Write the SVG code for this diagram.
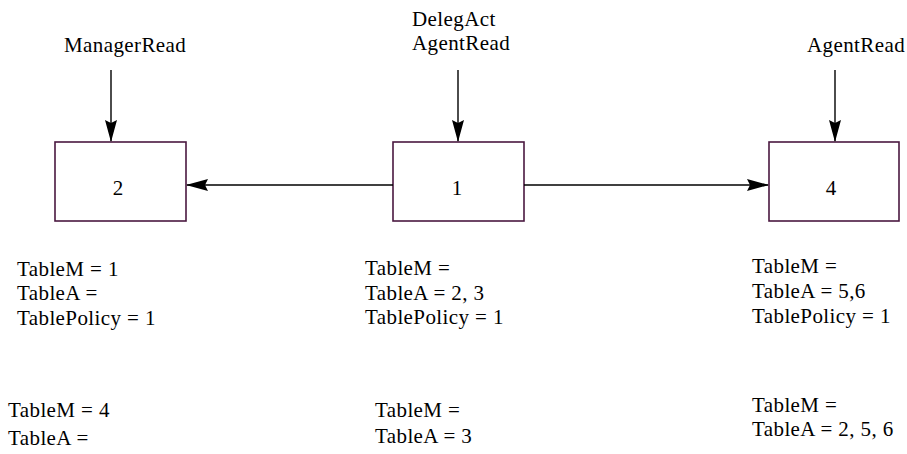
<svg xmlns="http://www.w3.org/2000/svg" width="907" height="454" viewBox="0 0 907 454">
  <style>
    .box { fill: #ffffff; stroke: #4a1840; stroke-width: 1.6; }
    .wire { stroke: #000000; stroke-width: 1.4; fill: none; }
    text { font-family: "Liberation Serif", "Times New Roman", serif; font-size: 21px; fill: #000000; letter-spacing: 0.4px; }
    .num { text-anchor: middle; letter-spacing: 0; }
  </style>
  <defs>
    <marker id="head" viewBox="0 0 22 12" refX="21" refY="6" markerWidth="22" markerHeight="12" markerUnits="userSpaceOnUse" orient="auto">
      <path d="M0,0 L22,6 L0,12 L3,6 Z" fill="#000000"/>
    </marker>
  </defs>

  <rect width="907" height="454" fill="#ffffff"/>

  <!-- nodes -->
  <g id="node-2">
    <rect class="box" x="55" y="142" width="131" height="79"/>
    <text class="num" x="118" y="195">2</text>
  </g>
  <g id="node-1">
    <rect class="box" x="393" y="142" width="131" height="79"/>
    <text class="num" x="457" y="195">1</text>
  </g>
  <g id="node-4">
    <rect class="box" x="769" y="142" width="130" height="79"/>
    <text class="num" x="831" y="195">4</text>
  </g>

  <!-- input labels -->
  <g id="label-manager">
    <text x="64" y="52">ManagerRead</text>
  </g>
  <g id="label-deleg">
    <text x="412" y="26">DelegAct</text>
    <text x="412" y="50">AgentRead</text>
  </g>
  <g id="label-agent">
    <text x="807" y="52">AgentRead</text>
  </g>

  <!-- connectors -->
  <g id="connectors">
    <line class="wire" x1="111" y1="70" x2="111" y2="141" marker-end="url(#head)"/>
    <line class="wire" x1="458" y1="70" x2="458" y2="141" marker-end="url(#head)"/>
    <line class="wire" x1="835" y1="70" x2="835" y2="141" marker-end="url(#head)"/>
    <line class="wire" x1="393" y1="185" x2="187" y2="185" marker-end="url(#head)"/>
    <line class="wire" x1="524" y1="185" x2="768" y2="185" marker-end="url(#head)"/>
  </g>

  <!-- table states -->
  <g id="state-2">
    <text x="17" y="276">TableM = 1</text>
    <text x="17" y="300">TableA =</text>
    <text x="17" y="325">TablePolicy = 1</text>
    <text x="8" y="417">TableM = 4</text>
    <text x="8" y="445">TableA =</text>
  </g>
  <g id="state-1">
    <text x="365" y="275">TableM =</text>
    <text x="365" y="300">TableA = 2, 3</text>
    <text x="365" y="324">TablePolicy = 1</text>
    <text x="375" y="417">TableM =</text>
    <text x="375" y="443">TableA = 3</text>
  </g>
  <g id="state-4">
    <text x="752" y="273">TableM =</text>
    <text x="752" y="298">TableA = 5,6</text>
    <text x="752" y="323">TablePolicy = 1</text>
    <text x="752" y="412">TableM =</text>
    <text x="752" y="436">TableA = 2, 5, 6</text>
  </g>
</svg>
